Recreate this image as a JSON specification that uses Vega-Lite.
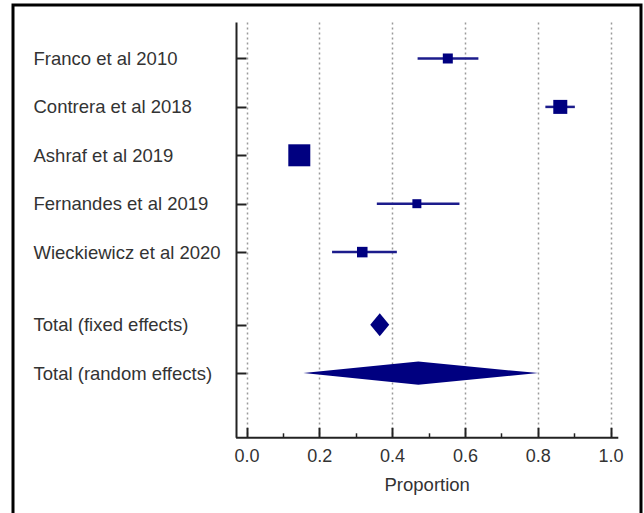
{
  "$schema": "https://vega.github.io/schema/vega-lite/v6.json",
  "width": 628,
  "height": 508,
  "autosize": {"type": "none"},
  "padding": {"left": 13, "top": 5, "right": 3, "bottom": 0},
  "background": "white",
  "config": {
    "view": {"stroke": "#000000", "strokeWidth": 3, "strokeDash": [1136, 628, 508]},
    "font": "Liberation Sans"
  },
  "data": {
    "values": [
      {"study": "Franco et al 2010", "kind": "study", "est": 0.553, "lo": 0.470, "hi": 0.637, "weight": 10.3},
      {"study": "Contrera et al 2018", "kind": "study", "est": 0.862, "lo": 0.821, "hi": 0.902, "weight": 20.2},
      {"study": "Ashraf et al 2019", "kind": "study", "est": 0.145, "lo": 0.125, "hi": 0.168, "weight": 49.8},
      {"study": "Fernandes et al 2019", "kind": "study", "est": 0.468, "lo": 0.358, "hi": 0.585, "weight": 8.3},
      {"study": "Wieckiewicz et al 2020", "kind": "study", "est": 0.318, "lo": 0.235, "hi": 0.413, "weight": 11.4},
      {"study": "Total (fixed effects)", "kind": "fixed", "est": 0.366, "lo": 0.340, "hi": 0.392},
      {"study": "Total (random effects)", "kind": "random", "est": 0.472, "lo": 0.156, "hi": 0.802}
    ]
  },
  "encoding": {
    "y": {
      "field": "study",
      "type": "nominal",
      "scale": {
        "type": "point",
        "domain": ["gap0", "Franco et al 2010", "gap1", "Contrera et al 2018", "gap2", "Ashraf et al 2019", "gap3", "Fernandes et al 2019", "gap4", "Wieckiewicz et al 2020", "gap5", "gap6", "Total (fixed effects)", "gap7", "Total (random effects)", "gap8", "gap9"],
        "range": [17, 432.3],
        "padding": 0.58,
        "align": 0.4377
      },
      "axis": {
        "orient": "left",
        "offset": -223,
        "values": ["Franco et al 2010", "Contrera et al 2018", "Ashraf et al 2019", "Fernandes et al 2019", "Wieckiewicz et al 2020", "Total (fixed effects)", "Total (random effects)"],
        "title": null,
        "grid": false,
        "tickSize": -10,
        "tickWidth": 2,
        "tickColor": "#222222",
        "domainColor": "#222222",
        "domainWidth": 2,
        "labelAlign": "left",
        "labelBaseline": "middle",
        "labelPadding": 213,
        "labelFontSize": 18.5,
        "labelColor": "#333333",
        "labelLimit": 0
      }
    }
  },
  "layer": [
    {
      "transform": [{"filter": "datum.kind === 'study'"}],
      "mark": {"type": "rule", "color": "#1c1c8c", "strokeWidth": 2.5},
      "encoding": {
        "x": {
          "field": "lo",
          "type": "quantitative",
          "scale": {"domain": [-0.03, 1.02], "range": [222.6, 604.8], "nice": false, "zero": false},
          "axis": {
            "orient": "bottom",
            "offset": -75.7,
            "values": [0, 0.2, 0.4, 0.6, 0.8, 1],
            "format": ".1f",
            "tickSize": -10,
            "tickWidth": 2,
            "tickColor": "#222222",
            "domainColor": "#222222",
            "domainWidth": 2,
            "grid": false,
            "labelPadding": 20,
            "labelFontSize": 18,
            "labelColor": "#333333",
            "labelFlush": false,
            "title": "Proportion",
            "titleFontSize": 18.5,
            "titleFontWeight": "normal",
            "titleColor": "#333333",
            "titlePadding": 10
          }
        },
        "x2": {"field": "hi"}
      }
    },
    {
      "transform": [{"filter": "datum.kind === 'study'"}],
      "mark": {"type": "point", "shape": "square", "filled": true, "color": "#000080", "opacity": 1},
      "encoding": {
        "x": {
          "field": "est",
          "type": "quantitative",
          "axis": {
            "orient": "bottom",
            "offset": -75.7,
            "values": [0.1, 0.3, 0.5, 0.7, 0.9],
            "tickSize": -4.5,
            "tickWidth": 1.5,
            "tickColor": "#222222",
            "domain": false,
            "labels": false,
            "grid": false,
            "title": null
          }
        },
        "size": {"field": "weight", "type": "quantitative", "scale": {"domain": [0, 49.8], "range": [0, 484]}, "legend": null}
      }
    },
    {
      "transform": [{"filter": "datum.kind === 'fixed'"}],
      "mark": {"type": "point", "shape": "M-0.826,0L0,-1L0.826,0L0,1Z", "size": 529, "filled": true, "color": "#000080", "opacity": 1},
      "encoding": {
        "x": {
          "field": "est",
          "type": "quantitative",
          "axis": {
            "orient": "top",
            "values": [0, 0.2, 0.4, 0.6, 0.8, 1],
            "grid": true,
            "gridDash": [2, 3],
            "gridColor": "#9a9a9a",
            "gridWidth": 1.5,
            "domain": false,
            "ticks": false,
            "labels": false,
            "title": null
          }
        }
      }
    },
    {
      "transform": [{"filter": "datum.kind === 'random'"}],
      "mark": {"type": "point", "shape": "M-0.958,0L0,-0.096L1,0L0,0.096Z", "size": 57600, "filled": true, "color": "#000080", "opacity": 1},
      "encoding": {
        "x": {"field": "est", "type": "quantitative", "axis": null}
      }
    }
  ],
  "resolve": {"axis": {"x": "independent"}}
}
